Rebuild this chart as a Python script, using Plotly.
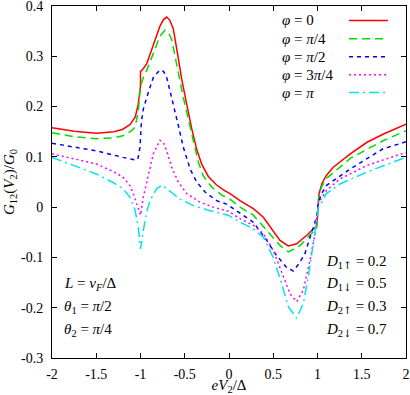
import plotly.graph_objects as go

# curves (eV2/Delta, G12/G0)
x_phi0 = [-2, -1.75, -1.5, -1.3, -1.2, -1.12, -1.06, -1.025, -1.01, -1.0, -1.0, -0.985, -0.93, -0.855, -0.78, -0.74,
          -0.704, -0.67, -0.63, -0.59, -0.535, -0.478, -0.42, -0.365, -0.31, -0.234, -0.14, -0.05, 0.011, 0.124,
          0.275, 0.388, 0.5, 0.576, 0.67, 0.765, 0.878, 0.99, 1.0, 1.005, 1.015, 1.05, 1.1, 1.175, 1.37, 1.56, 1.74, 2.0]
y_phi0 = [0.158, 0.151, 0.147, 0.150, 0.155, 0.164, 0.179, 0.205, 0.228, 0.24, 0.27, 0.272, 0.285, 0.321, 0.36, 0.373,
          0.378, 0.372, 0.355, 0.314, 0.255, 0.205, 0.155, 0.115, 0.086, 0.061, 0.044, 0.033, 0.027, 0.013,
          -0.003, -0.02, -0.046, -0.066, -0.077, -0.073, -0.056, -0.037, -0.02, 0.005, 0.025, 0.047, 0.063, 0.079,
          0.106, 0.129, 0.145, 0.165]

x_phi1 = [-2, -1.75, -1.5, -1.3, -1.2, -1.1, -1.062, -1.025, -1.0, -0.968, -0.93, -0.855, -0.78, -0.723, -0.68,
          -0.647, -0.6, -0.516, -0.44, -0.384, -0.347, -0.29, -0.196, -0.083, 0.011, 0.124, 0.275, 0.426, 0.576,
          0.67, 0.8, 0.915, 0.99, 1.005, 1.015, 1.047, 1.1, 1.37, 1.74, 2.0]
y_phi1 = [0.148, 0.14, 0.136, 0.138, 0.142, 0.152, 0.159, 0.19, 0.24, 0.258, 0.272, 0.305, 0.34, 0.352, 0.346,
          0.333, 0.29, 0.218, 0.16, 0.119, 0.09, 0.062, 0.04, 0.024, 0.016, 0.0, -0.016, -0.046, -0.076,
          -0.089, -0.077, -0.055, -0.043, 0.0, 0.02, 0.041, 0.057, 0.097, 0.132, 0.152]

x_phi2 = [-2, -1.75, -1.5, -1.2, -1.062, -1.03, -1.005, -0.99, -0.968, -0.912, -0.855, -0.78, -0.74, -0.704, -0.647,
          -0.6, -0.573, -0.516, -0.44, -0.365, -0.271, -0.14, -0.027, 0.124, 0.275, 0.426, 0.52, 0.65, 0.727, 0.8,
          0.859, 0.915, 0.99, 1.01, 1.047, 1.1, 1.37, 1.74, 2.0]
y_phi2 = [0.127, 0.119, 0.112, 0.099, 0.094, 0.095, 0.12, 0.17, 0.195, 0.228, 0.258, 0.273, 0.27, 0.258, 0.218,
          0.18, 0.163, 0.119, 0.076, 0.05, 0.03, 0.013, 0.006, -0.012, -0.03, -0.066, -0.092, -0.12, -0.127, -0.11,
          -0.092, -0.06, -0.02, 0.01, 0.027, 0.043, 0.076, 0.116, 0.13]

x_phi3 = [-2, -1.75, -1.5, -1.3, -1.2, -1.119, -1.081, -1.04, -1.0, -0.968, -0.93, -0.912, -0.855, -0.78, -0.74,
          -0.704, -0.647, -0.573, -0.478, -0.328, -0.177, -0.008, 0.124, 0.275, 0.39, 0.5, 0.615, 0.689, 0.765,
          0.84, 0.915, 0.972, 1.01, 1.028, 1.1, 1.254, 1.56, 2.0]
y_phi3 = [0.106, 0.096, 0.086, 0.07, 0.06, 0.043, 0.027, 0.005, -0.016, 0.02, 0.05, 0.06, 0.106, 0.133, 0.128,
          0.112, 0.079, 0.05, 0.027, 0.01, 0.0, -0.008, -0.023, -0.036, -0.053, -0.086, -0.139, -0.172, -0.188,
          -0.165, -0.106, -0.053, 0.007, 0.013, 0.033, 0.056, 0.083, 0.109]

x_phi4 = [-2, -1.75, -1.5, -1.3, -1.2, -1.119, -1.062, -1.025, -1.0, -0.968, -0.93, -0.893, -0.817, -0.755, -0.667,
          -0.554, -0.403, -0.215, -0.008, 0.124, 0.275, 0.39, 0.5, 0.595, 0.67, 0.765, 0.84, 0.896, 0.952, 1.01,
          1.028, 1.1, 1.254, 1.56, 2.0]
y_phi4 = [0.099, 0.083, 0.066, 0.048, 0.037, 0.02, -0.005, -0.04, -0.083, -0.046, -0.01, 0.013, 0.037, 0.044, 0.032,
          0.016, 0.003, -0.007, -0.016, -0.03, -0.043, -0.06, -0.10, -0.152, -0.198, -0.221, -0.191, -0.139, -0.072,
          0.0, 0.003, 0.027, 0.046, 0.07, 0.099]

names = ["<i>φ</i> = 0", "<i>φ</i> = <i>π</i>/4", "<i>φ</i> = <i>π</i>/2", "<i>φ</i> = 3<i>π</i>/4", "<i>φ</i> = <i>π</i>"]
colors = ["#ff0000", "#00dd00", "#0000ff", "#ff00ff", "#00e5ee"]
dashes = ["solid", "8px,5px", "4px,4px", "2px,3px", "10px,4px,2px,4px"]

x_ticks = [-2, -1.5, -1, -0.5, 0, 0.5, 1, 1.5, 2]
x_labels = ["-2", "-1.5", "-1", "-0.5", "0", "0.5", "1", "1.5", "2"]
y_ticks = [-0.3, -0.2, -0.1, 0, 0.1, 0.2, 0.3, 0.4]
y_labels = ["-0.3", "-0.2", "-0.1", "0", "0.1", "0.2", "0.3", "0.4"]

UP = "<span style='font-family:DejaVu Serif'>↑</span>"
DN = "<span style='font-family:DejaVu Serif'>↓</span>"
left_notes = ["<i>L</i> = <i>v<sub>F</sub></i>/Δ", "<i>θ</i><sub>1</sub> = <i>π</i>/2", "<i>θ</i><sub>2</sub> = <i>π</i>/4"]
right_notes = ["<i>D</i><sub>1" + UP + "</sub> = 0.2", "<i>D</i><sub>1" + DN + "</sub> = 0.5",
               "<i>D</i><sub>2" + UP + "</sub> = 0.3", "<i>D</i><sub>2" + DN + "</sub> = 0.7"]

FONT = "Liberation Serif"

fig = go.Figure()
xs = [x_phi0, x_phi1, x_phi2, x_phi3, x_phi4]
ys = [y_phi0, y_phi1, y_phi2, y_phi3, y_phi4]
for i in range(5):
    fig.add_trace(go.Scatter(x=xs[i], y=ys[i], mode="lines", name=names[i], showlegend=False,
                             line=dict(color=colors[i], width=1.5, dash=dashes[i])))

# gnuplot-style key: label on the left, sample on the right
annotations = []
shapes = []
row_y = [0.959, 0.907, 0.856, 0.805, 0.754]
for i in range(5):
    annotations.append(dict(x=0.645, y=row_y[i], xref="paper", yref="paper", text=names[i], showarrow=False,
                            xanchor="left", yanchor="middle", font=dict(size=15, family=FONT, color="black")))
    shapes.append(dict(type="line", xref="paper", yref="paper", x0=0.839, x1=0.949, y0=row_y[i], y1=row_y[i],
                       line=dict(color=colors[i], width=1.5, dash=dashes[i])))

note_y = [0.21, 0.144, 0.079]
for t, yy in zip(left_notes, note_y):
    annotations.append(dict(x=0.028, y=yy, xref="paper", yref="paper", text=t, showarrow=False,
                            xanchor="left", yanchor="middle", font=dict(size=15, family=FONT, color="black")))
note_y2 = [0.273, 0.21, 0.144, 0.079]
for t, yy in zip(right_notes, note_y2):
    annotations.append(dict(x=0.768, y=yy, xref="paper", yref="paper", text=t, showarrow=False,
                            xanchor="left", yanchor="middle", font=dict(size=15, family=FONT, color="black")))

axis_style = dict(showline=True, linecolor="black", linewidth=1, mirror="ticks", ticks="inside", ticklen=5,
                  tickcolor="black", showgrid=False, zeroline=False, ticklabeloverflow="allow",
                  tickfont=dict(size=14, family=FONT, color="black"))

fig.update_layout(
    width=410, height=395,
    margin=dict(l=52, r=4, t=6, b=37, autoexpand=False),
    paper_bgcolor="white", plot_bgcolor="white",
    xaxis=dict(range=[-2, 2], tickvals=x_ticks, ticktext=x_labels, ticklabelstandoff=3,
               title=dict(text="<i>eV</i><sub>2</sub>/Δ", font=dict(size=15, family=FONT, color="black"), standoff=0),
               **axis_style),
    yaxis=dict(range=[-0.3, 0.4], tickvals=y_ticks, ticktext=y_labels, ticklabelstandoff=5,
               title=dict(text="<i>G</i><sub>12</sub>(<i>V</i><sub>2</sub>)/<i>G</i><sub>0</sub>",
                          font=dict(size=15, family=FONT, color="black"), standoff=2),
               **axis_style),
    annotations=annotations,
    shapes=shapes,
)

fig.write_html("out.html", config={"displayModeBar": False},
               post_script="document.body.style.margin='0';")
